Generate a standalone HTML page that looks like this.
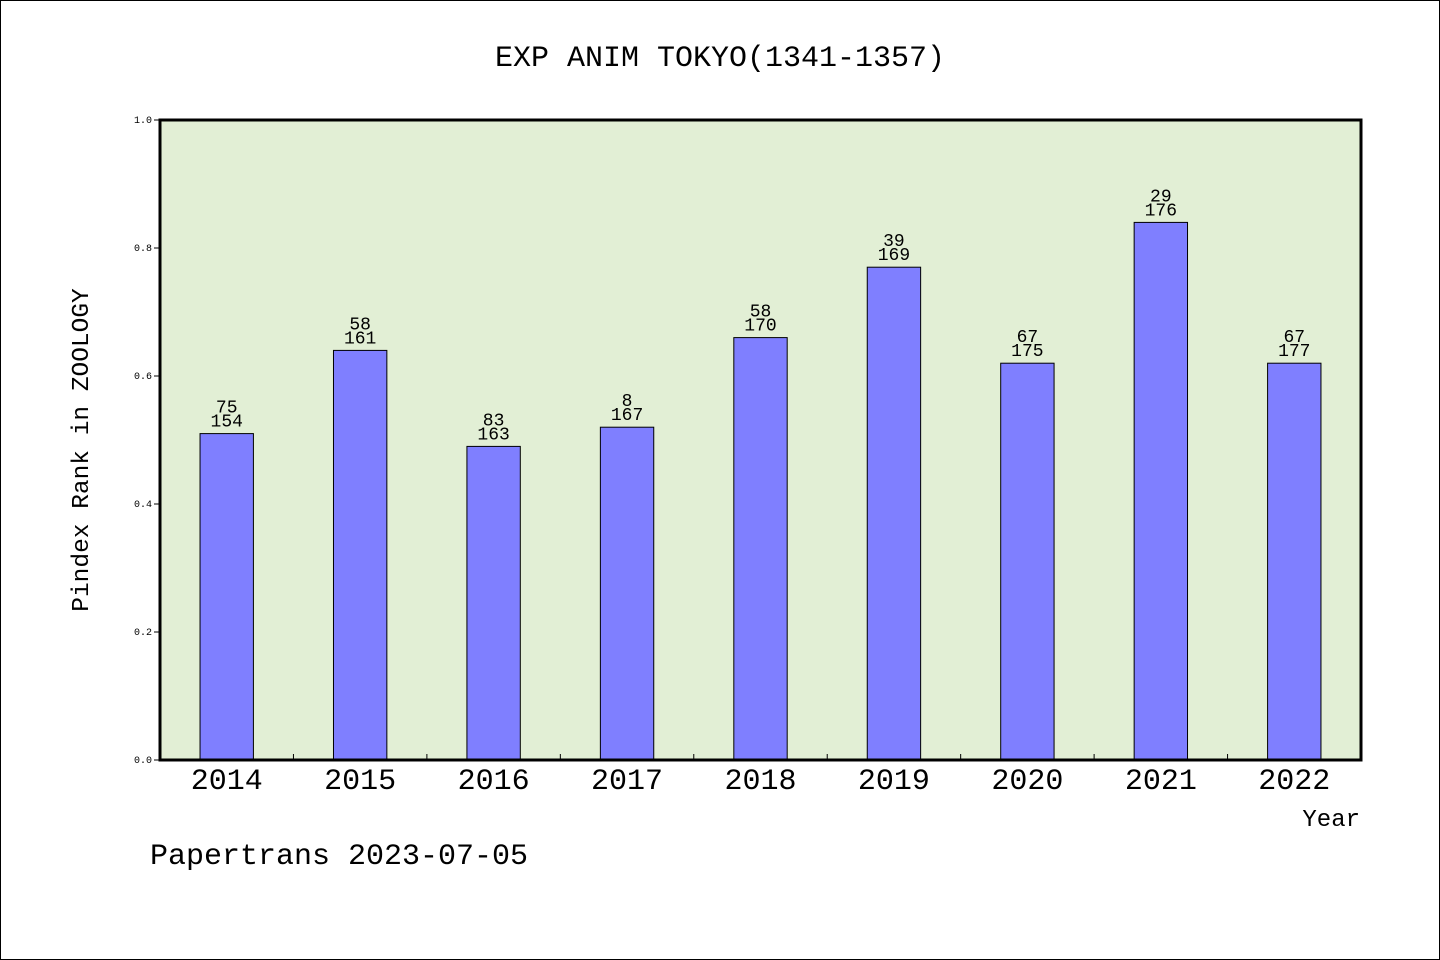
<!DOCTYPE html>
<html><head><meta charset="utf-8"><style>
html,body{margin:0;padding:0;background:#fff}
svg{display:block}
text{font-family:"Liberation Mono","WenQuanYi Zen Hei",monospace;fill:#000}
</style></head><body>
<svg id="chart" width="1440" height="960">
<rect x="0.5" y="0.5" width="1439" height="959" fill="#fff" stroke="#000"/>
<text x="720" y="66" font-size="30" text-anchor="middle">EXP ANIM TOKYO(1341-1357)</text>
<rect x="160" y="120" width="1201" height="640" fill="#e2efd5"/>
<g id="marks"></g>
<rect x="160" y="120" width="1201" height="640" fill="none" stroke="#000" stroke-width="3"/>
<text x="88" y="450" font-size="24.5" text-anchor="middle" transform="rotate(-90 88 450)">Pindex Rank in ZOOLOGY</text>
<text x="1360" y="826" font-size="24" text-anchor="end">Year</text>
<text x="150" y="864" font-size="30">Papertrans 2023-07-05</text>
</svg>
<script>
const categories=["2014","2015","2016","2017","2018","2019","2020","2021","2022"];
const values=[0.51,0.64,0.49,0.52,0.66,0.77,0.62,0.84,0.62];
const topLabels=["75","58","83","8","58","39","67","29","67"];
const bottomLabels=["154","161","163","167","170","169","175","176","177"];
const yTicks=[0,0.2,0.4,0.6,0.8,1.0];
const X0=160,X1=1361,Y0=760,Y1=120;
const band=(X1-X0)/categories.length;
const xc=i=>X0+band*(i+0.5);
const y=v=>Y0-(Y0-Y1)*v;
const NS="http://www.w3.org/2000/svg";
const g=document.getElementById('marks');
function mk(tag,attrs){const e=document.createElementNS(NS,tag);for(const k in attrs)e.setAttribute(k,attrs[k]);g.appendChild(e);return e;}
yTicks.forEach(t=>{
  const l=mk('line',{x1:X0-6,x2:X0,y1:y(t),y2:y(t),stroke:'#000'});
  
  
  const tx=mk('text',{x:X0-8,y:y(t)+3,'font-size':10,'text-anchor':'end'});
  tx.textContent=t.toFixed(1);
  
  
});
categories.forEach((c,i)=>{
  const bw=band*0.4;
  const b=mk('rect',{x:xc(i)-bw/2,y:y(values[i]),width:bw,height:Y0-y(values[i]),fill:'#7f7fff',stroke:'#000','stroke-width':1});
  
  
  if(i>0){
    const tk=mk('line',{x1:X0+band*i,x2:X0+band*i,y1:Y0,y2:Y0-6,stroke:'#000'});
    
    
  }
  const cl=mk('text',{x:xc(i),y:Y0+29,'font-size':30,'text-anchor':'middle'});
  cl.textContent=c;
  
  
  const t1=mk('text',{x:xc(i),y:y(values[i])-21,'font-size':18,'text-anchor':'middle'});
  t1.textContent=topLabels[i];
  
  
  const t2=mk('text',{x:xc(i),y:y(values[i])-7,'font-size':18,'text-anchor':'middle'});
  t2.textContent=bottomLabels[i];
  
  
});
</script>
</body></html>
